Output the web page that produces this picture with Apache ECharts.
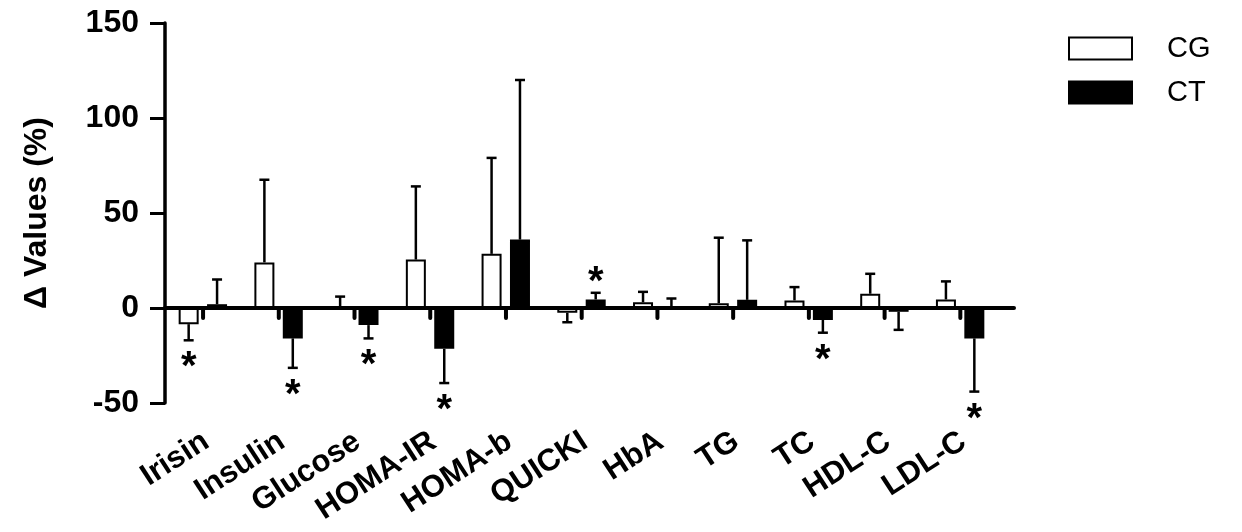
<!DOCTYPE html>
<html>
<head>
<meta charset="utf-8">
<script src="https://cdn.jsdelivr.net/npm/echarts@6/dist/echarts.min.js"></script>
<style>
  html, body { margin: 0; padding: 0; background: #fff; }
  #main { width: 1242px; height: 532px; }
</style>
</head>
<body>
<div id="main"></div>
<script>
  // data
  var categories = ['Irisin', 'Insulin', 'Glucose', 'HOMA-IR', 'HOMA-b', 'QUICKI', 'HbA', 'TG', 'TC', 'HDL-C', 'LDL-C'];
  var cgMean = [-8.5, 24, 0.3, 25.5, 28.5, -2.5, 3, 2.5, 4, 7.5, 4.5];
  var cgSd   = [8.5, 43.5, 5.7, 38.5, 50.5, 5, 5.5, 34.5, 7, 10.5, 9.5];
  var ctMean = [2, -16, -9, -21.5, 36, 4.5, 1, 4.3, -6.3, -2, -16];
  var ctSd   = [13, 15.5, 7, 18, 84, 3.5, 4, 31.3, 6.7, 9.5, 28];
  var cgSig  = [1, 0, 0, 0, 0, 0, 0, 0, 0, 0, 0];
  var ctSig  = [0, 1, 1, 1, 0, 1, 0, 0, 1, 0, 1];
  var yTicks = [-50, 0, 50, 100, 150];

  var barW = 20;
  var gapRatio = 0.42;
  var groupW = barW * 2 + barW * gapRatio;
  var font = '"Liberation Sans", Arial, sans-serif';

  var chart = echarts.init(document.getElementById('main'));

  function errData(mean, sd, sig) {
    return mean.map(function (m, i) { return [i, m, sd[i], sig[i]]; });
  }

  function errRender(side) {
    return function (params, api) {
      var i = api.value(0), m = api.value(1), sd = api.value(2), sig = api.value(3);
      var end = m >= 0 ? m + sd : m - sd;
      var c = api.coord([i, 0]);
      var x = c[0] - groupW / 2 + barW / 2 + (side === 'ct' ? barW + barW * gapRatio : 0);
      var p0 = api.coord([i, m]);
      var p1 = api.coord([i, end]);
      var st = { stroke: '#000', lineWidth: 2.5 };
      var kids = [
        { type: 'line', shape: { x1: x, y1: p0[1], x2: x, y2: p1[1] }, style: st },
        { type: 'line', shape: { x1: x - 5, y1: p1[1], x2: x + 5, y2: p1[1] }, style: st }
      ];
      if (side === 'ct') {
        // small dark stub printed left of every CT bar in the source figure
        kids.push({ type: 'rect', shape: { x: x - barW / 2 - 6, y: c[1], width: 4, height: 12, r: 2 }, style: { fill: '#000' } });
      }
      if (sig) {
        var ty = m >= 0 ? p1[1] - 18 : p1[1] + 20;
        kids.push({ type: 'text', x: x, y: ty + 8, style: {
          text: '*', fill: '#000', font: 'bold 40px ' + font,
          textAlign: 'center', textVerticalAlign: 'middle' } });
      }
      return { type: 'group', children: kids };
    };
  }

  chart.setOption({
    animation: false,
    backgroundColor: '#fff',
    textStyle: { fontFamily: font, color: '#000' },
    legend: {
      orient: 'vertical',
      left: 1068,
      top: 34,
      padding: 0,
      itemWidth: 63,
      itemHeight: 22,
      itemGap: 15,
      icon: 'rect',
      data: ['CG', 'CT'],
      textStyle: { fontSize: 29, color: '#000', padding: [0, 0, 0, 30] }
    },
    grid: [
      { left: 165, right: 244, top: 23, bottom: 129 },
      { left: 165, right: 228, top: 23, bottom: 129 }
    ],
    xAxis: [
      {
        type: 'category',
        gridIndex: 0,
        data: categories,
        axisLine: { show: false, onZero: false },
        axisTick: { show: false },
        axisLabel: {
          rotate: 33,
          margin: 38,
          interval: 0,
          fontSize: 31,
          fontWeight: 'bold',
          color: '#000',
          padding: [0, -4, 0, 0]
        },
        splitLine: { show: false }
      },
      {
        type: 'value',
        gridIndex: 1,
        min: 0,
        max: 1,
        axisLine: { show: true, onZero: true, lineStyle: { color: '#000', width: 4 } },
        axisTick: { show: false },
        axisLabel: { show: false },
        splitLine: { show: false }
      }
    ],
    yAxis: [
      {
        type: 'value',
        gridIndex: 0,
        min: yTicks[0],
        max: yTicks[yTicks.length - 1],
        interval: 50,
        name: 'Δ Values (%)',
        nameLocation: 'middle',
        nameGap: 112,
        nameTextStyle: { fontSize: 32, fontWeight: 'bold', color: '#000' },
        axisLine: { show: true, lineStyle: { color: '#000', width: 3.5 } },
        axisTick: { show: true, length: 15, lineStyle: { color: '#000', width: 3 } },
        axisLabel: { fontSize: 32, fontWeight: 'bold', color: '#000', margin: 26 },
        splitLine: { show: false }
      },
      {
        type: 'value',
        gridIndex: 1,
        min: yTicks[0],
        max: yTicks[yTicks.length - 1],
        show: false
      }
    ],
    series: [
      {
        name: 'CG',
        type: 'bar',
        xAxisIndex: 0,
        yAxisIndex: 0,
        data: cgMean,
        barWidth: barW,
        barGap: (gapRatio * 100) + '%',
        itemStyle: { color: '#fff', borderColor: '#000', borderWidth: 2 }
      },
      {
        name: 'CT',
        type: 'bar',
        xAxisIndex: 0,
        yAxisIndex: 0,
        data: ctMean,
        barWidth: barW,
        barGap: (gapRatio * 100) + '%',
        itemStyle: { color: '#000', borderColor: '#000', borderWidth: 2 }
      },
      {
        type: 'custom',
        xAxisIndex: 0,
        yAxisIndex: 0,
        renderItem: errRender('cg'),
        data: errData(cgMean, cgSd, cgSig),
        z: 3
      },
      {
        type: 'custom',
        xAxisIndex: 0,
        yAxisIndex: 0,
        renderItem: errRender('ct'),
        data: errData(ctMean, ctSd, ctSig),
        z: 3
      }
    ]
  });
</script>
</body>
</html>
